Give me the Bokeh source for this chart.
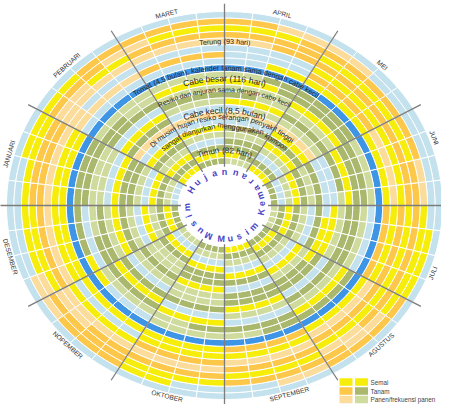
import numpy as np
from bokeh.plotting import figure
from bokeh.models import Range1d
from bokeh.core.properties import value
from bokeh.embed import file_html
from bokeh.resources import INLINE

# ---------------- data ----------------
months = ["JANUARI", "PEBRUARI", "MARET", "APRIL", "MEI", "JUNI",
          "JULI", "AGUSTUS", "SEPTEMBER", "OKTOBER", "NOPEMBER", "DESEMBER"]

# one string per ring (outer -> inner), 48 weeks Jan..Dec (4 per month)
# b = kosong, Y = semai, O = tanam (oranye), o = panen (oranye muda),
# G = tanam (hijau), g = panen (hijau muda), B = pemisah biru
ring_codes = [
    "bbbb bbbb bbbb bbbb bbbb bbbb bbbb bbbb bbbb bbbb bbbb bbbb",
    "bbYY YYOO OOOO OOoo oobb bbbb bYYY OOOO oobb bbYY OOOo obbb",
    "YYYY OOOo oYYY YYYO OOOO OOoo YYYY YooO OOOO YYYY OOOO oYYY",
    "OOOO ooYY OOOO OOOO YYYY YYOO OOOO OOoo YYYY OOOO OOoo YYYY",
    "OOOO oooo oooo ooOO OOOO OOOO YYYY YYYY OOOO oooo oooo OOOO",
    "oooo obbb bbbb bbbb YYYY YYYY OOOO OOOO oooo OOOO YYYY oooo",
    "YYYY oooo OOOO bbbb OOOO oooo YYYY oooo YYYY YYYY bbbb YYYY",
    "YYYY bbbb bbbb bbYY YYYY YYYY OOOO YYYY OOOO YYYY YYYY YYYY",
    "BBBB BBBB BBBB BBBB BBBB BBBB BBBB BBBB BBBB BBBB BBBB BBBB",
    "GGGG gggg gggg ggGG GGGG gggg bbbb GGGG GGgg gggg bbbY YGGG",
    "GGGG GGgg YYYY YYYG GGGG GGGG gggg YYYY GGGG GGgg gggg bbbb",
    "gggg GGGG gggg gggg YYYY GGGG GGGG gggg bbbb YYYY GGGG GGgg",
    "gggg bbbb GGGG GGgg gggg YYYY GGGG GGGG gggg bbbb YYYY GGGG",
    "bbbb YYYY gggg YYYY GGGG GGGg gggg bbbb YYYY GGGG GGGG gggg",
    "YYYY GGGG bbbb bbgg gggg bbbb YYYY GGGG GGGG gggg bbbb YYYY",
    "GGGG oooo oooo oooo oooo bbbb bYYY YGGG GGGG gggg gggg GGGG",
    "GGGG bbbb bbbb bbbb YYYY GGGG GGGG gggg bbbb YYYY GGGG gggg",
    "gggg YYYY YYYY GGGG GGGG gggg bbbb YYYY GGGG GGGG gggg bbbb",
    "bbbb GGGG gggg gggg YYYY GGGG gggg bbbb YYYY GGGG gggg YYYY",
    "YYYY gggg bbbb GGGG gggg YYYY GGGG gggg bbbb YYYY GGGG gggg",
    "GGGG YYYY GGGG GGGG bbbb gggg YYYY GGGG gggg bbbb YYYY GGGG",
    "gggg GGGG YYYY YYGG GGGG bbbb GGGG YYYY GGGG gggg bbbb YYYY",
    "bbbb YYYY GGGG gggg YYYY GGGG gggg GGGG YYYY GGGG gggg GGGG",
]

crop_labels = ["Terung (93 hari)",
               "Tomat (4,5 bulan), kalender tanam sama dengan cabe kecil",
               "Cabe besar (116 hari)",
               "Resiko dan anjuran sama dengan cabe kecil",
               "Cabe kecil (8,5 bulan)",
               "Di musim hujan resiko serangan penyakit tinggi",
               "sangat dianjurkan menggunakan kompos",
               "Timun (82 hari)"]

season_labels = ["Musim Hujan", "Musim Kemarau"]

legend_labels = ["Semai", "Tanam", "Panen/frekuensi panen"]
legend_left = ["Y", "O", "o"]
legend_right = ["Y", "G", "g"]

palette = {"b": "#c4e2ee", "Y": "#f6ee0a", "O": "#fdc74a", "o": "#fbdc9a",
           "G": "#a9b86c", "g": "#cfda9d", "B": "#3e95e6"}

# ---------------- layout ----------------
W, H = 441, 404
CX, CY = 224, 205          # centre in figure pixels
AX, BY = 218.0, 194.0      # px per unit horizontally / vertically
R_OUT, R_IN = 1.0, 0.211
rings = [s.replace(" ", "") for s in ring_codes]
NR = len(rings)
RW = (R_OUT - R_IN) / NR

p = figure(width=W, height=H, output_backend="svg", toolbar_location=None,
           x_range=Range1d(-CX / AX, (W - CX) / AX),
           y_range=Range1d(-(H - CY) / BY, CY / BY),
           x_axis_location=None, y_axis_location=None, min_border=0)
p.grid.visible = False
p.outline_line_color = None
p.background_fill_color = "white"
p.border_fill_color = "white"

# ---------------- cells ----------------
xs, ys, cols = [], [], []
for i, code in enumerate(rings):
    r1 = R_OUT - i * RW
    r0 = r1 - RW
    n = len(code)
    for j, c in enumerate(code):
        a0 = np.radians(180 - j * 360 / n)
        a1 = np.radians(180 - (j + 1) * 360 / n)
        t = np.linspace(a0, a1, 6)
        x = np.concatenate([r1 * np.cos(t), r0 * np.cos(t[::-1])])
        y = np.concatenate([r1 * np.sin(t), r0 * np.sin(t[::-1])])
        xs.append(x.tolist()); ys.append(y.tolist()); cols.append(palette[c])
p.patches(xs, ys, fill_color=cols, line_color="white", line_width=1)

# inner white disc
t = np.linspace(0, 2 * np.pi, 120)
p.patch((R_IN * np.cos(t)).tolist(), (R_IN * np.sin(t)).tolist(),
        fill_color="white", line_color="white")

# month separators
ang = np.radians(np.arange(12) * 30.0)
p.segment(x0=(0.2 * np.cos(ang)).tolist(), y0=(0.2 * np.sin(ang)).tolist(),
          x1=(1.04 * np.cos(ang)).tolist(), y1=(1.04 * np.sin(ang)).tolist(),
          line_color="#7d7d7d", line_width=1.3)

# ---------------- helpers ----------------
def cw(c):
    if c in "ijl": return 0.222
    if c in ".,'": return 0.278
    if c in "ft ": return 0.278
    if c in "r()": return 0.333
    if c in "mM": return 0.833
    if c in "w": return 0.722
    if c in "kcsvxyz": return 0.5
    if c.isupper(): return 0.667
    return 0.556

def rot_cw(t):   # clockwise reading, tops outward
    return np.arctan2(-BY * np.cos(t), AX * np.sin(t))

def rot_ccw(t):  # counter-clockwise reading, tops inward
    return np.arctan2(BY * np.cos(t), -AX * np.sin(t))

def arc_words(text, r, center_deg, fs, color="#262626", font="Liberation Sans", style="normal"):
    words = text.split(" ")
    mids, pos = [], 0.0
    for w in words:
        ww = sum(cw(c) for c in w) * fs
        mids.append(pos + ww / 2)
        pos += ww + cw(" ") * fs
    total = pos - cw(" ") * fs
    tt = np.radians(np.linspace(center_deg - 150, center_deg + 150, 3001))
    sp = r * np.sqrt((AX * np.sin(tt)) ** 2 + (BY * np.cos(tt)) ** 2)
    s = np.concatenate([[0], np.cumsum(0.5 * (sp[1:] + sp[:-1]) * np.diff(tt))])
    s -= np.interp(np.radians(center_deg), tt, s)
    tw = np.interp([-(m - total / 2) for m in mids], s, tt)
    p.text(x=(r * np.cos(tw)).tolist(), y=(r * np.sin(tw)).tolist(), text=words,
           angle=rot_cw(tw).tolist(), text_align="center", text_baseline="middle",
           text_font=value(font), text_font_size=value(f"{fs}px"),
           text_color=color, text_font_style=style)

# ---------------- crop labels ----------------
label_geom = [(0.846, 90, 7.2), (0.708, 89.5, 7.4), (0.655, 90, 8.6), (0.597, 90, 7.0),
              (0.49, 90, 8.6), (0.455, 92, 7.4), (0.405, 90, 7.4), (0.283, 90, 8.2)]
for txt, (r, c, fs) in zip(crop_labels, label_geom):
    arc_words(txt, r, c, fs)

# ---------------- month labels ----------------
mid_deg = 165 - np.arange(12) * 30.0
mid_deg[5] = 20.0     # JUNI / JULI kept inside the right edge
mid_deg[6] = -20.0
mid_deg[8] = -73.0    # SEPTEMBER kept above the bottom edge
mid = np.radians(mid_deg)
rm = np.array([1.024] * 6 + [1.016] * 6)
rots = [rot_cw(a) if k < 6 else rot_ccw(a) for k, a in enumerate(mid)]
p.text(x=(rm * np.cos(mid)).tolist(), y=(rm * np.sin(mid)).tolist(), text=months,
       angle=[float(v) for v in rots], text_align="center", text_baseline="middle",
       text_font=value("Liberation Sans"), text_font_size=value("6.6px"), text_color="#333333")

# ---------------- season text inside ----------------
rs = 0.172
hujan = list(season_labels[0])
th = np.radians(245 - np.arange(len(hujan)) * 15.5)
keep = [k for k, ch in enumerate(hujan) if ch != " "]
p.text(x=[rs * np.cos(th[k]) for k in keep], y=[rs * np.sin(th[k]) for k in keep],
       text=[hujan[k] for k in keep], angle=[float(rot_cw(th[k])) for k in keep],
       text_align="center", text_baseline="middle", text_font=value("Liberation Sans"),
       text_font_size=value("9px"), text_color="#4b43c6", text_font_style="bold")
kem = list(season_labels[1])
tk = np.radians(-95 + np.arange(len(kem)) * 14.0)
keep = [k for k, ch in enumerate(kem) if ch != " "]
p.text(x=[rs * np.cos(tk[k]) for k in keep], y=[rs * np.sin(tk[k]) for k in keep],
       text=[kem[k] for k in keep], angle=[float(rot_ccw(tk[k])) for k in keep],
       text_align="center", text_baseline="middle", text_font=value("Liberation Sans"),
       text_font_size=value("9px"), text_color="#4b43c6", text_font_style="bold")

# ---------------- legend ----------------
def px_x(px): return (px - 8 - CX) / AX
def px_y(py): return (CY - (py - 8)) / BY
rows_y = [389.5, 398.5, 407.0]
p.rect(x=[px_x(353.5)] * 3, y=[px_y(v) for v in rows_y], width=13 / AX, height=7.5 / BY,
       fill_color=[palette[c] for c in legend_left], line_color=None)
p.rect(x=[px_x(369.0)] * 3, y=[px_y(v) for v in rows_y], width=13 / AX, height=7.5 / BY,
       fill_color=[palette[c] for c in legend_right], line_color=None)
p.text(x=[px_x(378)] * 3, y=[px_y(v) for v in rows_y], text=legend_labels,
       text_align="left", text_baseline="middle", text_font=value("Liberation Sans"),
       text_font_size=value("6.3px"), text_color="#444444")

open("out.html", "w").write(file_html(p, INLINE))
